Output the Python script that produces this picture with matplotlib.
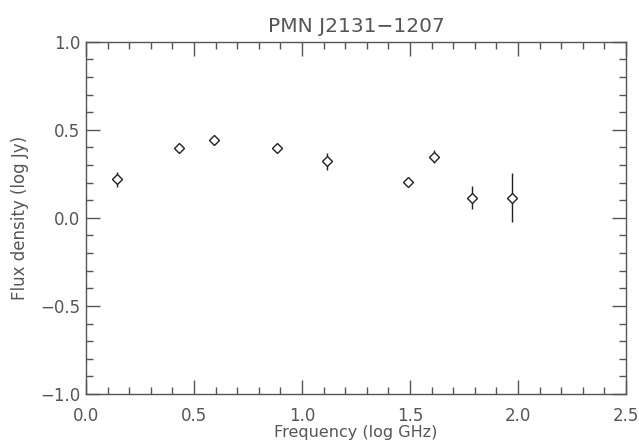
import matplotlib
matplotlib.use("Agg")
import matplotlib.pyplot as plt
from matplotlib.ticker import MultipleLocator, FuncFormatter

log_freq = [0.145, 0.432, 0.591, 0.886, 1.114, 1.489, 1.611, 1.786, 1.971]
log_flux = [0.22, 0.396, 0.443, 0.394, 0.32, 0.205, 0.347, 0.114, 0.114]
log_err = [0.042, 0.012, 0.012, 0.012, 0.05, 0.012, 0.038, 0.066, 0.14]

title = "PMN J2131\u22121207"
xlabel = "Frequency (log GHz)"
ylabel = "Flux density (log Jy)"

gray = "#555555"
plt.rcParams['font.family'] = ['DejaVu Sans']
fig = plt.figure(figsize=(6.39, 4.41), dpi=100)
ax = fig.add_axes([0.1346, 0.1066, 0.8451, 0.7988])

ax.errorbar(log_freq, log_flux, yerr=log_err, fmt='D', mfc='white', mec='#222222',
            ecolor='#222222', ms=5.5, mew=1.0, elinewidth=1.0, capsize=0)

def fmt(v, pos):
    s = "%.1f" % abs(v)
    return ("\u2212" + s) if v < -1e-9 else s

ax.set_xlim(0, 2.5)
ax.set_ylim(-1.0, 1.0)
ax.xaxis.set_major_locator(MultipleLocator(0.5))
ax.xaxis.set_minor_locator(MultipleLocator(0.1))
ax.yaxis.set_major_locator(MultipleLocator(0.5))
ax.yaxis.set_minor_locator(MultipleLocator(0.1))
ax.xaxis.set_major_formatter(FuncFormatter(fmt))
ax.yaxis.set_major_formatter(FuncFormatter(fmt))
ax.tick_params(which='both', direction='in', top=True, right=True, color=gray,
               labelcolor=gray, labelsize=12, width=1)
ax.tick_params(which='major', length=10)
ax.tick_params(axis='x', which='major', pad=9.5)
ax.tick_params(axis='y', which='major', pad=4)
ax.tick_params(which='minor', length=5)
for s in ax.spines.values():
    s.set_color(gray)
    s.set_linewidth(1)

ax.set_title(title, color=gray, fontsize=14.5, pad=7)
ax.set_xlabel(xlabel, color=gray, fontsize=11.5)
ax.xaxis.set_label_coords(0.5, -0.131)
ax.xaxis.label.set_va('bottom')
ax.set_ylabel(ylabel, color=gray, fontsize=12, labelpad=8)

fig.savefig("out.png", dpi=100)
